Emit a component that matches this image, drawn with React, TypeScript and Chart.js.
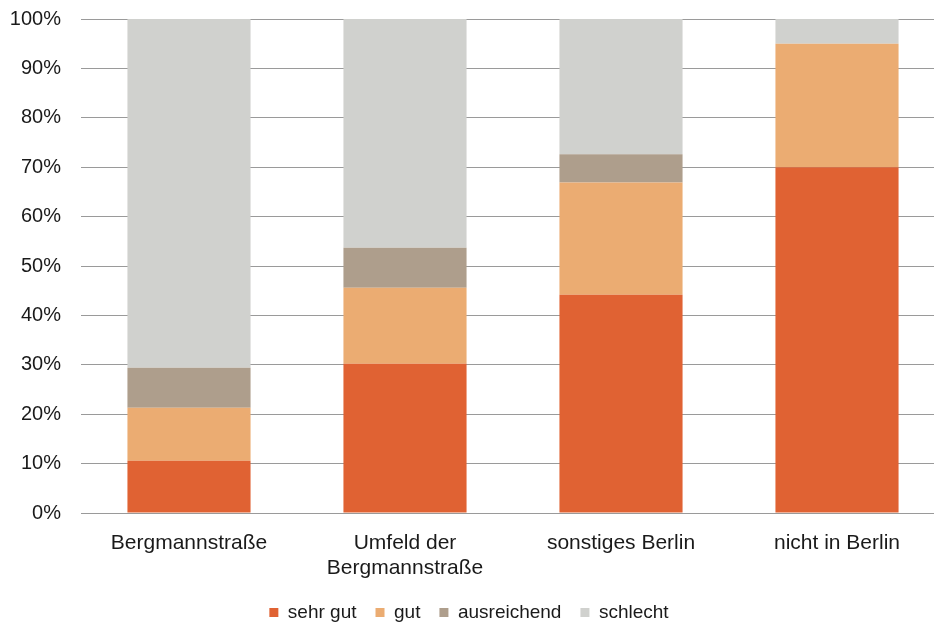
import React, { useEffect, useRef } from "react";
import { Chart, registerables } from "chart.js";

Chart.register(...registerables);

const categories: (string | string[])[] = [
  "Bergmannstraße",
  ["Umfeld der", "Bergmannstraße"],
  "sonstiges Berlin",
  "nicht in Berlin",
];

const seriesNames = ["sehr gut", "gut", "ausreichend", "schlecht"];
const sehrGut = [10.6, 30.2, 44.2, 70.0];
const gut = [10.7, 15.4, 22.7, 25.0];
const ausreichend = [8.1, 8.1, 5.7, 0];
const schlecht = [70.6, 46.3, 27.4, 5.0];
const seriesColors = ["#E06233", "#EBAC72", "#AE9E8C", "#D0D1CE"];

const yTicks = [0, 10, 20, 30, 40, 50, 60, 70, 80, 90, 100];

const FONT = "'Liberation Sans', Arial, Helvetica, sans-serif";

export default function App() {
  const ref = useRef<HTMLCanvasElement | null>(null);

  useEffect(() => {
    if (!ref.current) return;
    const values = [sehrGut, gut, ausreichend, schlecht];
    const chart = new Chart(ref.current, {
      type: "bar",
      data: {
        labels: categories,
        datasets: seriesNames.map((name, i) => ({
          label: name,
          data: values[i],
          backgroundColor: seriesColors[i],
          borderWidth: 0,
          barPercentage: 0.57,
          categoryPercentage: 1,
        })),
      },
      options: {
        responsive: false,
        animation: false,
        devicePixelRatio: 1,
        layout: { padding: { left: -7, right: 0, top: 19, bottom: -10 } },
        scales: {
          x: {
            stacked: true,
            grid: { display: false, drawTicks: false },
            border: { display: false },
            afterFit: (axis: any) => {
              axis.height = 71;
              axis.paddingTop = 0;
              axis.paddingBottom = 0;
            },
            ticks: {
              color: "#1a1a1a",
              font: { family: FONT, size: 21, lineHeight: 1.19 },
              padding: 18,
              maxRotation: 0,
              autoSkip: false,
            },
          },
          y: {
            stacked: true,
            min: 0,
            max: 100,
            afterBuildTicks: (axis: any) => {
              axis.ticks = yTicks.map((v) => ({ value: v }));
            },
            afterFit: (axis: any) => {
              axis.width = 88;
              axis.paddingTop = 0;
              axis.paddingBottom = 0;
            },
            grid: { color: "#9a9a9a", lineWidth: 1, drawTicks: false },
            border: { display: false },
            ticks: {
              color: "#1a1a1a",
              font: { family: FONT, size: 20 },
              padding: 20,
              callback: (v: any) => v + "%",
            },
          },
        },
        plugins: {
          legend: {
            position: "bottom",
            labels: {
              boxWidth: 9,
              boxHeight: 9,
              padding: 19,
              color: "#1a1a1a",
              font: { family: FONT, size: 19 },
            },
          },
          tooltip: { enabled: false },
        },
      },
    });
    return () => chart.destroy();
  }, []);

  return (
    <div
      style={{
        position: "absolute",
        left: 0,
        top: 0,
        width: 934,
        height: 622,
        overflow: "hidden",
        background: "#fff",
      }}
    >
      <canvas ref={ref} width={945} height={622} style={{ display: "block" }} />
    </div>
  );
}
